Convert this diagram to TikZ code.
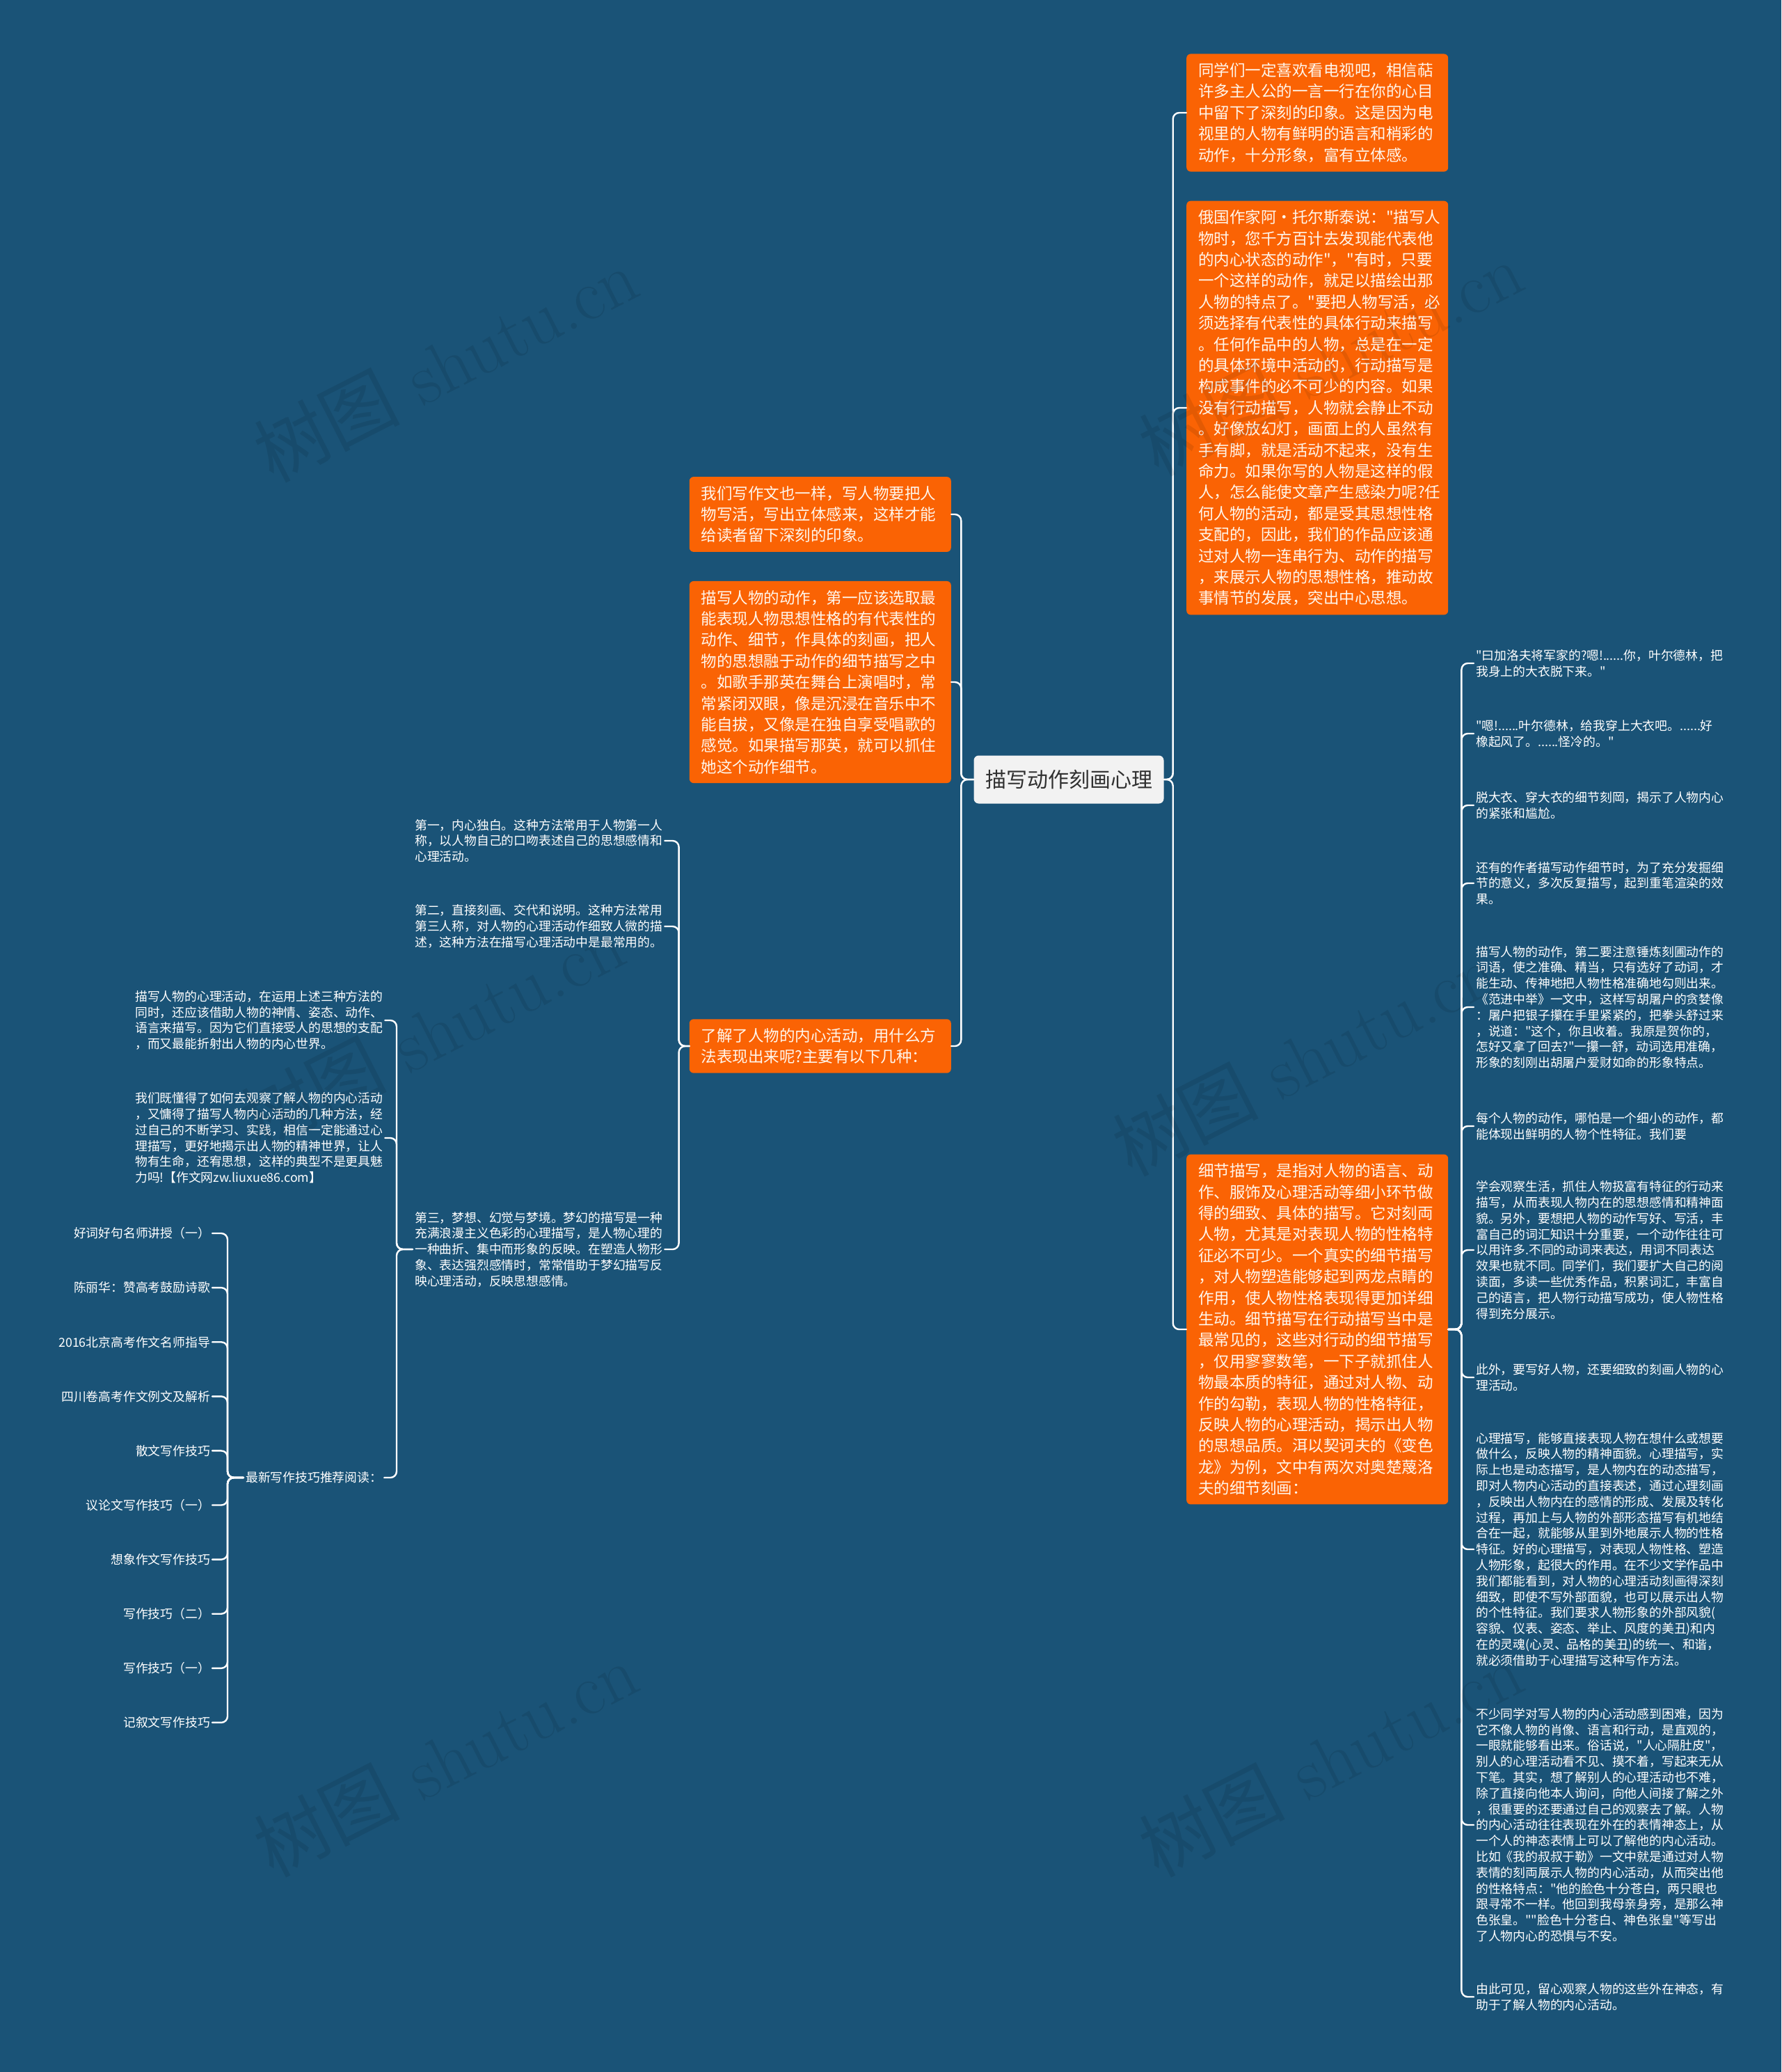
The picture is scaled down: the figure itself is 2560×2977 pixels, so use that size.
\documentclass[tikz,border=0pt]{standalone}
\usepackage{fontspec}
\newfontfamily\cjk{Noto Sans CJK SC}
\definecolor{mapbg}{HTML}{1A5377}
\definecolor{topicorange}{HTML}{FA6304}
\definecolor{topictext}{HTML}{FFF6EC}
\definecolor{rootfill}{HTML}{F2F2F2}
\definecolor{roottext}{HTML}{303030}

\begin{document}
\begin{tikzpicture}[
  x=1pt,
  y=-1pt,
  line join=round,
  line cap=round,
  root/.style={fill=rootfill,text=roottext,rounded corners=7pt,minimum width=273pt,
    minimum height=69pt,inner sep=0pt,font={\cjk\fontsize{30}{36}\selectfont}},
  topic/.style={fill=topicorange,text=topictext,rounded corners=6pt,text width=342pt,
    align=left,inner xsep=17pt,inner ysep=13pt,font={\cjk\fontsize{22.5}{30.4}\selectfont}},
  note/.style={text=white,align=left,inner sep=3pt,font={\cjk\fontsize{17.8}{22.8}\selectfont}},
  link/.style={draw=white,line width=2.4pt,rounded corners=9pt},
  wmark/.style={text=black,opacity=0.09,rotate=27,font={\fontsize{105}{105}\selectfont}}
]
  % Canvas.
  \useasboundingbox (0,0) rectangle (2560,2977);
  \fill[mapbg] (0,0) rectangle (2560,2977);

  % Central topic.
  \node[root] (root) at (1536,1120) {描写动作刻画心理};

  % Orange main topics on the right.
  \node[topic,anchor=west] (ideaA) at (1705,162) {同学们一定喜欢看电视吧，相信萜\\许多主人公的一言一行在你的心目\\中留下了深刻的印象。这是因为电\\视里的人物有鲜明的语言和梢彩的\\动作，十分形象，富有立体感。};
  \node[topic,anchor=west] (ideaB) at (1705,586) {俄国作家阿•托尔斯泰说："描写人\\物时，您千方百计去发现能代表他\\的内心状态的动作"，"有时，只要\\一个这样的动作，就足以描绘出那\\人物的特点了。"要把人物写活，必\\须选择有代表性的具体行动来描写\\。任何作品中的人物，总是在一定\\的具体环境中活动的，行动描写是\\构成事件的必不可少的内容。如果\\没有行动描写，人物就会静止不动\\。好像放幻灯，画面上的人虽然有\\手有脚，就是活动不起来，没有生\\命力。如果你写的人物是这样的假\\人，怎么能使文章产生感染力呢?任\\何人物的活动，都是受其思想性格\\支配的，因此，我们的作品应该通\\过对人物一连串行为、动作的描写\\，来展示人物的思想性格，推动故\\事情节的发展，突出中心思想。};
  \node[topic,anchor=west] (ideaC) at (1705,1910) {细节描写，是指对人物的语言、动\\作、服饰及心理活动等细小环节做\\得的细致、具体的描写。它对刻両\\人物，尤其是对表现人物的性格特\\征必不可少。一个真实的细节描写\\，对人物塑造能够起到两龙点睛的\\作用，使人物性格表现得更加详细\\生动。细节描写在行动描写当中是\\最常见的，这些对行动的细节描写\\，仅用寥寥数笔，一下子就抓住人\\物最本质的特征，通过对人物、动\\作的勾勒，表现人物的性格特征，\\反映人物的心理活动，揭示出人物\\的思想品质。洱以契诃夫的《变色\\龙》为例，文中有两次对奥楚蔑洛\\夫的细节刻画：};

  % Orange main topics on the left.
  \node[topic,anchor=east] (ideaD) at (1367,739) {我们写作文也一样，写人物要把人\\物写活，写出立体感来，这样才能\\给读者留下深刻的印象。};
  \node[topic,anchor=east] (ideaE) at (1367,980) {描写人物的动作，第一应该选取最\\能表现人物思想性格的有代表性的\\动作、细节，作具体的刻画，把人\\物的思想融于动作的细节描写之中\\。如歌手那英在舞台上演唱时，常\\常紧闭双眼，像是沉浸在音乐中不\\能自拔，又像是在独自享受唱歌的\\感觉。如果描写那英，就可以抓住\\她这个动作细节。};
  \node[topic,anchor=east] (ideaF) at (1367,1503) {了解了人物的内心活动，用什么方\\法表现出来呢?主要有以下几种：};

  % Detail notes hanging off the detail-description topic.
  \node[note,anchor=west] (det1) at (2118,953) {"曰加洛夫将军家的?嗯!......你，叶尔德林，把\\我身上的大衣脱下来。"};
  \node[note,anchor=west] (det2) at (2118,1054) {"嗯!......叶尔德林，给我穿上大衣吧。......好\\橡起风了。......怪冷的。"};
  \node[note,anchor=west] (det3) at (2118,1157) {脱大衣、穿大衣的细节刻岡，揭示了人物内心\\的紧张和尴尬。};
  \node[note,anchor=west] (det4) at (2118,1269) {还有的作者描写动作细节时，为了充分发掘细\\节的意义，多次反复描写，起到重笔渲染的效\\果。};
  \node[note,anchor=west] (det5) at (2118,1447) {描写人物的动作，第二要注意锤炼刻圃动作的\\词语，使之准确、精当，只有选好了动词，才\\能生动、传神地把人物性格准确地勾则出来。\\《范进中举》一文中，这样写胡屠户的贪婪像\\：屠户把银子攥在手里紧紧的，把拳头舒过来\\，说道："这个，你且收着。我原是贺你的，\\怎好又拿了回去?"一攥一舒，动词选用准确，\\形象的刻刚出胡屠户爱财如命的形象特点。};
  \node[note,anchor=west] (det6) at (2118,1618) {每个人物的动作，哪怕是一个细小的动作，都\\能体现出鲜明的人物个性特征。我们要};
  \node[note,anchor=west] (det7) at (2118,1796) {学会观察生活，抓住人物扱富有特征的行动来\\描写，从而表现人物内在的思想感情和精神面\\貌。另外，要想把人物的动作写好、写活，丰\\富自己的词汇知识十分重要，一个动作往往可\\以用许多.不同的动词来表达，用词不同表达\\效果也就不同。同学们，我们要扩大自己的阅\\读面，多读一些优秀作品，积累词汇，丰富自\\己的语言，把人物行动描写成功，使人物性格\\得到充分展示。};
  \node[note,anchor=west] (det8) at (2118,1979) {此外，要写好人物，还要细致的刻画人物的心\\理活动。};
  \node[note,anchor=west] (det9) at (2118,2226) {心理描写，能够直接表现人物在想什么或想要\\做什么，反映人物的精神面貌。心理描写，实\\际上也是动态描写，是人物内在的动态描写，\\即对人物内心活动的直接表述，通过心理刻画\\，反映出人物内在的感情的形成、发展及转化\\过程，再加上与人物的外部形态描写有机地结\\合在一起，就能够从里到外地展示人物的性格\\特征。好的心理描写，对表现人物性格、塑造\\人物形象，起很大的作用。在不少文学作品中\\我们都能看到，对人物的心理活动刻画得深刻\\细致，即使不写外部面貌，也可以展示出人物\\的个性特征。我们要求人物形象的外部风貌(\\容貌、仪表、姿态、举止、风度的美丑)和内\\在的灵魂(心灵、品格的美丑)的统一、和谐，\\就必须借助于心理描写这种写作方法。};
  \node[note,anchor=west] (det10) at (2118,2622) {不少同学对写人物的内心活动感到困难，因为\\它不像人物的肖像、语言和行动，是直观的，\\一眼就能够看出来。俗话说，"人心隔肚皮"，\\别人的心理活动看不见、摸不着，写起来无从\\下笔。其实，想了解别人的心理活动也不难，\\除了直接向他本人询问，向他人间接了解之外\\，很重要的还要通过自己的观察去了解。人物\\的内心活动往往表现在外在的表情神态上，从\\一个人的神态表情上可以了解他的内心活动。\\比如《我的叔叔于勒》一文中就是通过对人物\\表情的刻両展示人物的内心活动，从而突出他\\的性格特点："他的脸色十分苍白，两只眼也\\跟寻常不一样。他回到我母亲身旁，是那么神\\色张皇。""脸色十分苍白、神色张皇"等写出\\了人物内心的恐惧与不安。};
  \node[note,anchor=west] (det11) at (2118,2869) {由此可见，留心观察人物的这些外在神态，有\\助于了解人物的内心活动。};

  % Three ways of showing inner activity.
  \node[note,anchor=west] (way1) at (593,1208) {第一，内心独白。这种方法常用于人物第一人\\称，以人物自己的口吻表述自己的思想感情和\\心理活动。};
  \node[note,anchor=west] (way2) at (593,1331) {第二，直接刻画、交代和说明。这种方法常用\\第三人称，对人物的心理活动作细致人微的描\\述，这种方法在描写心理活动中是最常用的。};
  \node[note,anchor=west] (way3) at (593,1795) {第三，梦想、幻觉与梦境。梦幻的描写是一种\\充满浪漫主义色彩的心理描写，是人物心理的\\一种曲折、集中而形象的反映。在塑造人物形\\象、表达强烈感情时，常常借助于梦幻描写反\\映心理活动，反映思想感情。};

  % Closing remarks and reading list.
  \node[note,anchor=west] (tip1) at (191,1466) {描写人物的心理活动，在运用上述三种方法的\\同时，还应该借助人物的神情、姿态、动作、\\语言来描写。因为它们直接受人的思想的支配\\，而又最能折射出人物的内心世界。};
  \node[note,anchor=west] (tip2) at (191,1635) {我们既懂得了如何去观察了解人物的内心活动\\，又慵得了描写人物内心活动的几种方法，经\\过自己的不断学习、实践，相信一定能通过心\\理描写，更好地揭示出人物的精神世界，让人\\物有生命，还宥思想，这样的典型不是更具魅\\力吗!【作文网zw.liuxue86.com】};
  \node[note,anchor=west] (more) at (350,2123) {最新写作技巧推荐阅读：};

  \foreach \txt [count=\i from 0] in {好词好句名师讲授（一）,陈丽华：赞高考鼓励诗歌,
      2016北京高考作文名师指导,四川卷高考作文例文及解析,散文写作技巧,
      议论文写作技巧（一）,想象作文写作技巧,写作技巧（二）,写作技巧（一）,记叙文写作技巧} {
    \node[note,anchor=east] (read\i) at (305,{1772+78.1*\i}) {\txt};
    \draw[link] (more.west) -- ++(-23,0) |- (read\i.east);
  }

  % Elbow connectors from each parent to its children.
  \foreach \t in {ideaA,ideaB,ideaC} {
    \draw[link] (root.east) -- ++(13,0) |- (\t.west);
  }
  \foreach \t in {ideaD,ideaE,ideaF} {
    \draw[link] (root.west) -- ++(-18,0) |- (\t.east);
  }
  \foreach \i in {1,...,11} {
    \draw[link] (ideaC.east) -- ++(19,0) |- (det\i.west);
  }
  \foreach \i in {1,2,3} {
    \draw[link] (ideaF.west) -- ++(-15,0) |- (way\i.east);
  }
  \foreach \t in {tip1,tip2,more} {
    \draw[link] (way3.west) -- ++(-23,0) |- (\t.east);
  }

  % Faint site watermark over everything.
  \foreach \wx/\wy [count=\k] in {640/523,1912/514,621/1482,1874/1520,640/2527,1912/2527} {
    \node[wmark] (mark\k) at (\wx,\wy) {{\cjk 树图} shutu.cn};
  }
\end{tikzpicture}
\end{document}
